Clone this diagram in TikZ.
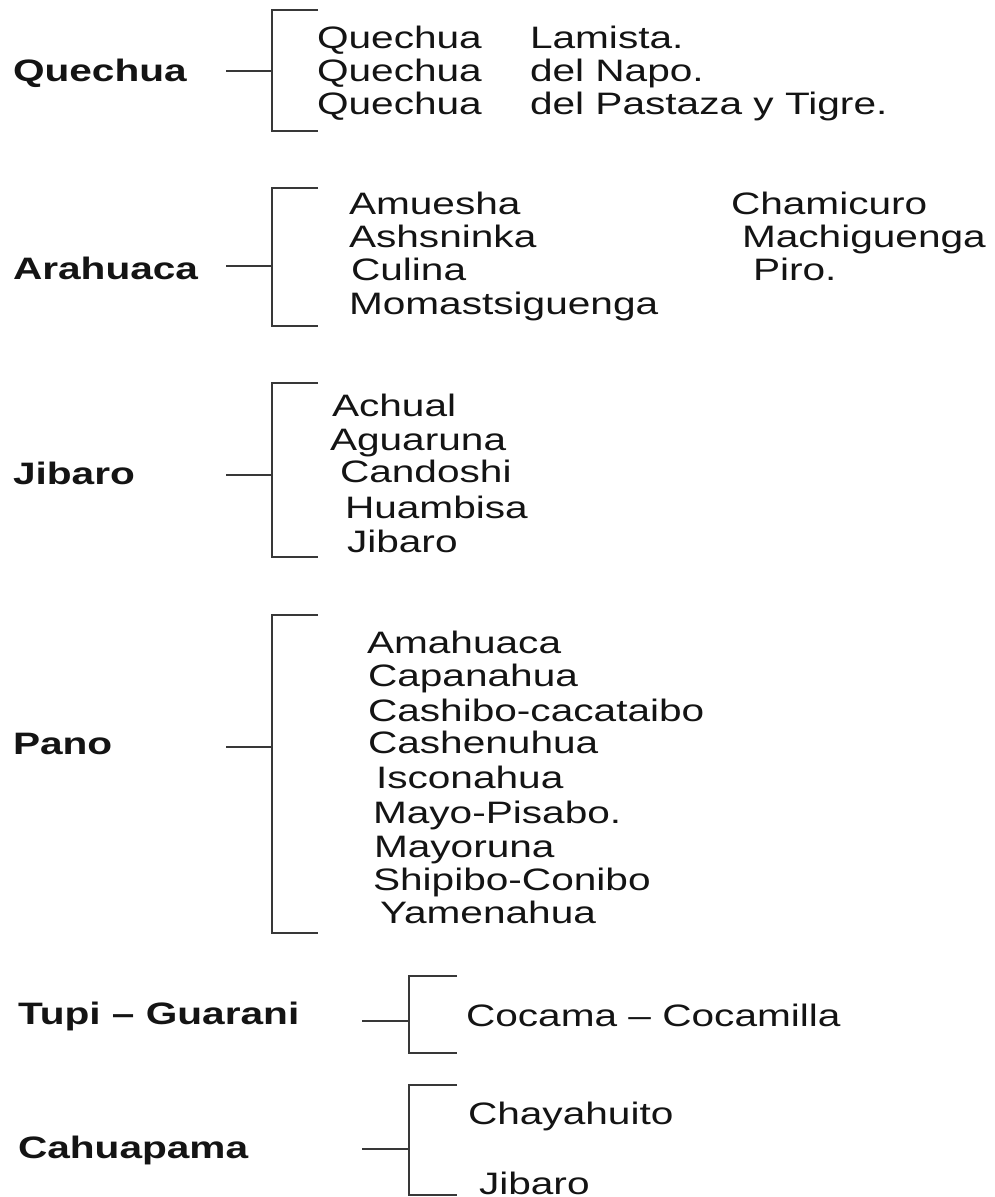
\documentclass[tikz,border=0pt]{standalone}
\usepackage{fontspec}
\setmainfont{Liberation Sans}[FakeStretch=1.31]
\begin{document}
\begin{tikzpicture}[x=1pt,y=-1pt,
  txt/.style={inner sep=0pt,outer sep=0pt,anchor=west,text height=22pt,text depth=0pt,
    font=\fontsize{31}{33}\selectfont,text=black!92},
  grp/.style={txt,font=\fontsize{31}{33}\selectfont\bfseries},
  brk/.style={draw=black!78,line width=2.2pt},
  stem/.style={draw=black!78,line width=2.2pt}]
\useasboundingbox (0,0) rectangle (995,1197);

% ---------- Quechua ----------
\node[grp] (gQ) at (13,70) {Quechua};
\coordinate (sQ) at (226,71);
\coordinate (mQ) at (272,71);
\coordinate (tQ) at (272,10); \coordinate (tQe) at (318,10);
\coordinate (bQ) at (272,131); \coordinate (bQe) at (318,131);
\draw[stem] (sQ) -- (mQ);
\draw[brk] (tQe) -- (tQ) -- (bQ) -- (bQe);
\node[txt] (q1) at (317,37) {Quechua};
\node[txt] (q2) at (317,70) {Quechua};
\node[txt] (q3) at (317,103) {Quechua};
\node[txt] (q1b) at (530,37) {Lamista.};
\node[txt] (q2b) at (530,70) {del Napo.};
\node[txt] (q3b) at (530,103) {del Pastaza y Tigre.};

% ---------- Arahuaca ----------
\node[grp] (gA) at (13,268) {Arahuaca};
\coordinate (sA) at (226,266);
\coordinate (mA) at (272,266);
\coordinate (tA) at (272,188); \coordinate (tAe) at (318,188);
\coordinate (bA) at (272,326); \coordinate (bAe) at (318,326);
\draw[stem] (sA) -- (mA);
\draw[brk] (tAe) -- (tA) -- (bA) -- (bAe);
\node[txt] (a1) at (349,203) {Amuesha};
\node[txt] (a2) at (349,236) {Ashsninka};
\node[txt] (a3) at (351,269) {Culina};
\node[txt] (a4) at (349,303) {Momastsiguenga};
\node[txt] (a5) at (731,203) {Chamicuro};
\node[txt] (a6) at (742,236) {Machiguenga};
\node[txt] (a7) at (753,269) {Piro.};

% ---------- Jibaro ----------
\node[grp] (gJ) at (13,473) {Jibaro};
\coordinate (sJ) at (226,475);
\coordinate (mJ) at (272,475);
\coordinate (tJ) at (272,383); \coordinate (tJe) at (318,383);
\coordinate (bJ) at (272,557); \coordinate (bJe) at (318,557);
\draw[stem] (sJ) -- (mJ);
\draw[brk] (tJe) -- (tJ) -- (bJ) -- (bJe);
\node[txt] (j1) at (332,405) {Achual};
\node[txt] (j2) at (330,439) {Aguaruna};
\node[txt] (j3) at (340,471) {Candoshi};
\node[txt] (j4) at (345,507) {Huambisa};
\node[txt] (j5) at (347,541) {Jibaro};

% ---------- Pano ----------
\node[grp] (gP) at (13,743) {Pano};
\coordinate (sP) at (226,747);
\coordinate (mP) at (272,747);
\coordinate (tP) at (272,615); \coordinate (tPe) at (318,615);
\coordinate (bP) at (272,933); \coordinate (bPe) at (318,933);
\draw[stem] (sP) -- (mP);
\draw[brk] (tPe) -- (tP) -- (bP) -- (bPe);
\node[txt] (p1) at (367,642) {Amahuaca};
\node[txt] (p2) at (368,675) {Capanahua};
\node[txt] (p3) at (368,710) {Cashibo-cacataibo};
\node[txt] (p4) at (368,742) {Cashenuhua};
\node[txt] (p5) at (376,777) {Isconahua};
\node[txt] (p6) at (373,812) {Mayo-Pisabo.};
\node[txt] (p7) at (374,846) {Mayoruna};
\node[txt] (p8) at (373,879) {Shipibo-Conibo};
\node[txt] (p9) at (380,912) {Yamenahua};

% ---------- Tupi - Guarani ----------
\node[grp] (gT) at (18,1013) {Tupi – Guarani};
\coordinate (sT) at (362,1021);
\coordinate (mT) at (409,1021);
\coordinate (tT) at (409,976); \coordinate (tTe) at (457,976);
\coordinate (bT) at (409,1053); \coordinate (bTe) at (457,1053);
\draw[stem] (sT) -- (mT);
\draw[brk] (tTe) -- (tT) -- (bT) -- (bTe);
\node[txt] (t1) at (466,1015) {Cocama – Cocamilla};

% ---------- Cahuapama ----------
\node[grp] (gC) at (18,1147) {Cahuapama};
\coordinate (sC) at (362,1149);
\coordinate (mC) at (409,1149);
\coordinate (tC) at (409,1085); \coordinate (tCe) at (457,1085);
\coordinate (bC) at (409,1195); \coordinate (bCe) at (457,1195);
\draw[stem] (sC) -- (mC);
\draw[brk] (tCe) -- (tC) -- (bC) -- (bCe);
\node[txt] (c1) at (468,1113) {Chayahuito};
\node[txt] (c2) at (479,1183) {Jibaro};
\end{tikzpicture}
\end{document}
